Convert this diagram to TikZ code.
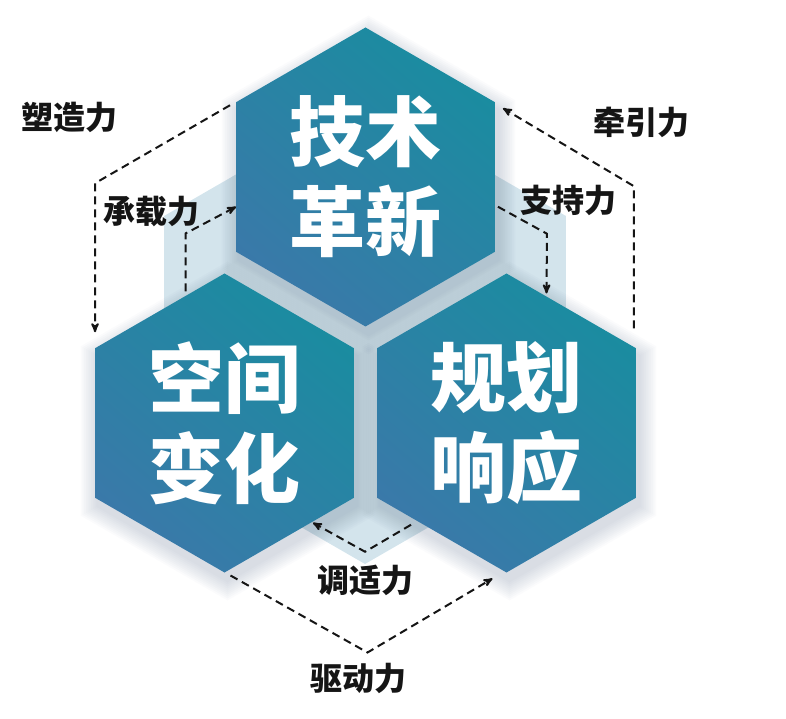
\documentclass[tikz,border=0pt]{standalone}
\usepackage{fontspec}
\usepackage{tikz}
\usetikzlibrary{shapes.geometric, positioning, arrows, backgrounds}
\newfontfamily\cjk{Noto Sans CJK SC}
\definecolor{hexteal}{HTML}{1A8CA0}
\definecolor{hexblue}{HTML}{3A79A9}
\definecolor{backfill}{HTML}{D3E4EC}
\definecolor{shadowc}{HTML}{4A5F80}
\definecolor{ink}{HTML}{151515}
\tikzset{
    >=stealth',
    node distance=246pt and 141pt,
    hexshape/.style={regular polygon, regular polygon sides=6, shape border rotate=30,
        inner sep=0pt, outer sep=0pt},
    hexa/.style={hexshape, minimum size=299pt, on grid,
        top color=hexteal, bottom color=hexblue, shading angle=-40,
        text=white, align=center, font=\cjk\bfseries\fontsize{76}{90}\selectfont},
    backhex/.style={hexshape, minimum size=464pt, fill=backfill},
    shadowhex/.style={hexshape, fill=shadowc, fill opacity=0.025},
    force/.style={text=ink, font=\cjk\bfseries\fontsize{32}{36}\selectfont},
    flow/.style={->, draw=ink, line width=2pt, dash pattern=on 8pt off 5pt}
}

\begin{document}
\begin{tikzpicture}[x=1pt, y=1pt]
    \useasboundingbox (0,0) rectangle (786,718);
    \node[hexa] (tech) at (365.5,541) {技术\\革新};
    \node[hexa, below left=of tech] (space) {空间\\变化};
    \node[hexa, below right=of tech] (plan) {规划\\响应};
    % soft shadows behind the hexagons
    \begin{scope}[on background layer]
        \node[backhex] (bg) at (365,386) {};
        \foreach \hx in {tech, space, plan}
            \foreach \k in {1,...,10}
                \node[shadowhex, minimum size={299pt+4pt*\k}] at ([shift={(3,-8)}]\hx.center) {};
    \end{scope}
    % labels
    \node[force] (shaping) at (69,601) {塑造力};
    \node[force] (carrying) at (151,506) {承载力};
    \node[force] (pulling) at (641,596) {牵引力};
    \node[force] (support) at (568,518) {支持力};
    \node[force] (adapting) at (365,138) {调适力};
    \node[force] (driving) at (358,40) {驱动力};
    % connectors
    \draw[flow] ([shift={(-6,-3)}]tech.150) -- ++(-135,-78) -- ([yshift=16pt]space.150);
    \draw[flow] ([shift={(-39,-18)}]space.90) -- ++(0,58) -- ([yshift=45pt]tech.210);
    \draw[flow] ([shift={(3,45)}]tech.330) -- ++(49,-27) -- ([shift={(40,-20)}]plan.90);
    \draw[flow] ([shift={(-2,20)}]plan.30) -- ++(0,142) -- ([shift={(8,-6)}]tech.30);
    \draw[flow] ([shift={(34,-27)}]plan.210) -- ++(-46,-27) -- ([shift={(-41,-25)}]space.330);
    \draw[flow] ([shift={(6,-3)}]space.270) -- ++(137,-77) -- ([shift={(-14,-6)}]plan.270);
\end{tikzpicture}
\end{document}
